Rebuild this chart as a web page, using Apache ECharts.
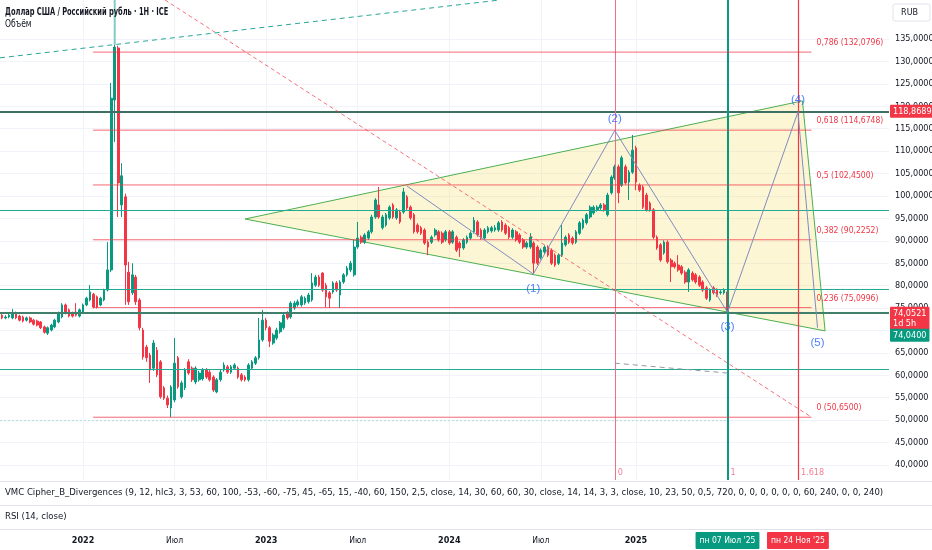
<!DOCTYPE html>
<html><head><meta charset="utf-8">
<script src="https://cdn.jsdelivr.net/npm/echarts@6/dist/echarts.min.js"></script>
<style>html,body{margin:0;padding:0;background:#fff}#c{width:932px;height:550px}</style>
</head><body><div id="c"></div><script>
const DAY = 86400000;
const ts = s => Date.parse(s + 'T00:00:00Z');
const FONT = "'Liberation Sans Narrow','Arial Narrow','DejaVu Sans Condensed',sans-serif";

// ---- data ----
const firstWeek = '2021-07-19';
// weekly [open, close, low, high]
const weeklyOHLC = [
[73.6,73.2,72.9,74.0],[73.4,72.8,72.5,73.8],[72.8,73.0,72.5,73.4],[73.0,73.4,72.7,73.8],[72.8,73.9,72.5,74.8],
[73.9,72.8,72.5,74.2],[73.2,72.3,72.0,73.5],[73.0,72.1,71.8,73.3],[72.3,72.8,72.0,73.1],[72.8,71.9,71.6,73.1],
[72.3,71.4,71.1,72.6],[72.1,71.2,70.9,72.4],[71.9,70.6,70.3,72.1],[70.8,69.6,69.3,71.1],[69.4,70.6,69.0,70.9],
[70.1,71.2,69.8,71.5],[70.8,72.3,70.5,72.6],[71.9,73.9,71.6,74.2],[73.0,75.7,72.7,76.1],[75.7,73.9,73.6,76.0],
[74.6,73.2,72.9,74.9],[73.9,73.2,72.9,74.2],[74.1,73.4,73.1,76.1],[73.2,74.6,72.9,74.9],[74.1,75.7,73.8,76.0],
[75.7,77.2,75.4,77.5],[76.8,78.6,76.5,80.1],[78.1,75.2,74.9,78.4],[77.5,75.2,74.9,77.8],[75.7,77.2,75.4,77.5],
[76.8,79.0,76.5,79.3],[79.0,83.5,78.7,89.7],[83.5,121.8,83.0,125.2],[121.4,133.2,112.0,133.7],[133.0,102.9,95.3,133.5],
[98.0,104.5,95.3,107.3],[99.8,84.6,75.7,100.5],[83.0,76.4,75.7,85.3],[78.4,82.4,77.9,85.0],[81.9,76.4,75.7,82.4],
[76.8,70.6,70.0,77.2],[70.1,64.1,63.5,70.6],[66.3,63.9,63.0,66.8],[64.5,61.2,58.3,65.0],[61.6,67.2,61.0,67.9],
[65.6,60.1,59.6,66.3],[63.0,55.2,54.8,63.4],[57.2,54.9,54.5,57.6],[54.9,53.4,52.7,55.5],[52.7,57.4,50.7,57.8],
[54.5,62.7,54.0,68.3],[63.9,57.4,57.0,64.3],[55.2,58.3,54.8,58.8],[57.2,61.2,56.7,61.6],[63.0,60.5,60.1,63.6],
[61.6,59.0,58.5,62.0],[58.5,61.6,58.0,62.0],[59.0,60.5,58.6,61.0],[59.2,61.2,58.8,61.6],[61.2,59.6,59.2,61.6],
[60.7,59.0,58.6,61.2],[59.6,56.7,56.3,60.0],[56.3,59.0,56.0,59.4],[59.0,60.7,58.6,61.2],[61.2,62.3,60.8,62.9],
[61.9,60.7,60.3,62.3],[60.7,61.9,60.3,62.3],[61.6,62.3,61.2,62.7],[61.6,59.6,59.2,62.0],[60.1,59.0,58.6,60.5],
[59.6,59.0,58.6,60.0],[59.0,62.3,58.6,62.7],[61.6,63.0,61.2,63.4],[62.7,63.9,62.3,64.3],[63.9,67.9,63.5,72.8],
[67.9,72.3,67.5,74.6],[72.3,70.6,70.0,72.8],[70.6,67.6,66.3,71.0],[67.2,69.0,66.8,69.4],[68.3,70.1,67.9,70.6],
[69.7,71.7,69.3,72.1],[70.6,73.4,70.2,73.9],[73.9,72.8,72.4,74.3],[73.0,76.1,72.6,76.5],[75.0,76.1,74.6,76.6],
[75.7,76.4,75.3,76.9],[75.7,77.5,75.3,77.9],[76.1,77.2,75.7,77.6],[76.4,77.9,76.0,78.4],[76.8,80.6,76.4,82.8],
[80.1,81.9,79.7,82.4],[81.9,80.1,79.7,82.4],[82.8,79.0,78.6,83.0],[80.1,77.5,75.2,80.6],[78.4,77.2,75.0,78.8],
[78.6,80.6,78.2,81.0],[80.6,79.0,78.6,81.0],[77.9,80.8,75.0,81.2],[80.8,82.4,80.4,82.8],[82.4,83.9,82.0,84.4],
[83.5,85.0,83.0,85.5],[82.4,88.6,82.0,90.2],[88.6,90.6,88.2,94.2],[90.8,89.7,89.3,91.2],[89.7,91.3,89.3,91.7],
[90.6,92.0,90.2,92.4],[92.0,95.3,91.6,95.8],[95.3,99.1,94.9,99.5],[98.0,95.3,94.9,102.0],[92.9,95.3,92.5,95.8],
[93.5,95.8,93.1,96.2],[95.1,97.5,94.7,97.9],[98.0,95.3,94.9,98.4],[95.1,96.9,94.7,97.3],[96.4,94.2,93.8,96.9],
[96.4,100.9,96.0,101.8],[99.8,97.3,96.9,100.2],[97.5,95.1,94.7,97.9],[95.8,92.0,91.6,96.2],[93.5,92.0,91.6,93.9],
[92.9,91.7,91.3,93.3],[92.4,89.5,89.1,92.8],[89.7,88.6,86.8,90.1],[89.7,90.8,89.3,91.2],[91.3,92.4,90.9,92.8],
[92.0,90.2,89.8,92.4],[91.7,89.7,89.3,92.1],[90.2,92.0,89.8,92.4],[92.0,89.5,89.1,92.4],[89.7,92.0,89.3,92.4],
[90.8,87.9,87.5,91.2],[89.5,88.4,86.4,89.9],[88.4,90.2,88.0,90.6],[89.7,90.8,89.3,91.2],[90.6,91.7,90.2,92.1],
[92.0,94.6,91.6,95.3],[94.2,91.3,90.9,94.6],[92.4,90.6,90.2,92.8],[90.6,92.4,90.2,92.8],[92.0,92.9,91.6,93.3],
[92.2,92.9,91.8,93.3],[92.4,92.9,92.0,93.5],[92.4,94.0,92.0,94.4],[94.2,92.4,92.0,94.6],[93.5,91.7,91.3,93.9],
[92.9,90.8,90.4,93.3],[90.8,92.4,90.4,92.8],[92.0,90.2,89.8,92.4],[91.3,89.7,89.3,91.7],[90.2,88.6,88.2,90.6],
[88.6,89.5,88.2,89.9],[88.6,90.8,88.2,91.7],[89.5,85.0,82.8,89.9],[88.6,85.0,84.6,89.0],[86.2,87.9,85.8,88.3],
[87.5,88.6,87.1,89.0],[88.6,86.8,86.4,89.0],[87.9,85.0,84.6,88.3],[86.8,84.6,84.2,87.2],[85.0,86.8,84.6,87.2],
[86.8,89.5,86.4,93.5],[89.1,90.8,88.7,91.2],[91.3,89.7,89.3,91.7],[90.6,89.5,89.1,91.0],[89.7,92.0,89.3,92.4],
[91.7,94.0,91.3,94.4],[92.9,94.6,92.5,95.0],[94.0,95.8,93.6,96.2],[95.3,97.5,94.9,97.9],[96.2,97.5,95.8,97.9],
[96.9,97.5,96.5,97.9],[97.3,98.0,96.9,98.4],[98.0,96.9,96.5,98.4],[95.8,100.2,95.4,100.7],[100.7,104.2,100.3,104.6],
[104.0,106.5,103.6,107.0],[106.5,100.7,98.4,107.0],[102.4,108.5,102.0,109.0],[106.5,102.9,102.5,107.0],[103.1,105.3,99.1,105.8],
[105.3,110.2,104.9,113.6],[110.7,103.1,101.3,111.2],[102.4,101.3,100.9,102.8],[102.0,97.5,97.1,102.4],[100.2,96.9,96.5,100.7],
[98.4,96.9,96.5,98.8],[96.9,90.8,90.4,97.3],[90.8,88.4,88.0,91.2],[89.1,85.7,85.3,89.5],[87.3,89.7,86.9,90.1],
[89.7,85.3,84.9,90.1],[85.7,84.2,80.8,86.1],[85.0,84.2,83.8,85.4],[84.6,83.5,83.1,86.8],[84.2,82.8,82.4,84.6],
[83.0,80.8,80.4,83.4],[80.8,83.5,78.6,83.9],[82.8,81.3,80.9,83.2],[82.4,80.8,80.4,82.8],[81.9,80.1,79.7,82.3],
[80.8,79.0,78.6,81.2],[79.5,77.2,76.8,79.9],[76.8,79.0,76.4,79.4],[79.5,78.4,78.0,79.9],[79.0,77.9,77.5,79.4],
[78.4,78.6,78.0,79.0],[78.4,79.0,78.0,79.4],[78.6,74.05,73.9,79.0]
];
const xRange = ['2021-07-22', '2026-05-24'];
const yRange = [36.65, 143.70];
const priceTicks = [40,45,50,55,60,65,70,75,80,85,90,95,100,105,110,115,120,125,130,135];
const timeTicks = ['2022-01-03','2022-07-04','2023-01-02','2023-07-03','2024-01-01','2024-07-01','2025-01-06'];
const timeTickLabels = ['2022','Июл','2023','Июл','2024','Июл','2025'];
const markerDates = ['2025-07-07','2025-11-24'];
const markerLabels = ["пн 07 Июл '25", "пн 24 Ноя '25"];
const tealLevels = [96.87, 79.2, 61.4];
const keyLevels = [118.8689, 74.0521];
const keyLabels = ['118,8689', '74,0521\n1d 5h'];
const bidPrice = 74.04, bidLabel = '74,0400';
const fibRatios = ['0,786','0,618','0,5','0,382','0,236','0'];
const fibPrices = [132.0796, 114.6748, 102.45, 90.2252, 75.0996, 50.65];
const fibSpan = ['2022-01-23', '2025-12-21'];
const cycleDates = ['2024-11-25','2025-07-07','2025-11-24'];
const cycleLabels = ['0','1','1.618'];
const triangleDates = ['2022-11-21','2025-12-03','2026-01-17'];
const trianglePrices = [94.86, 121.2, 69.9];
const waveDates = ['2023-10-09','2024-06-16','2024-11-25','2025-07-07','2025-11-24','2026-01-02'];
const wavePrices = [102.2, 82.6, 114.6, 74.05, 118.7, 70.6];
const waveLabels = ['', '(1)', '(2)', '(3)', '(4)', '(5)'];
const redRayDates = ['2022-06-15','2025-12-21'], redRayPrices = [143.7, 50.65];
const greenRayDates = ['2021-07-22','2024-04-11'], greenRayPrices = [130.8, 143.7];
const grayDashDates = ['2024-11-25','2025-07-07'], grayDashPrices = [62.7, 60.5];
const zeroDotDates = ['2021-07-22','2025-07-07'], zeroDotPrices = [49.9, 49.9];
const spikeDates = ['2022-03-07','2022-03-07'], spikePrices = [133.7, 143.7];

// ---- build ----
const t0 = ts(firstWeek);
const candleData = weeklyOHLC.map((r, i) => [t0 + i * 7 * DAY, r[0], r[1], r[2], r[3]]);
const pts = (ds, ps) => ds.map((d, i) => [ts(d), ps[i]]);
const seg = (ds, ps, style, z) => ({
  type: 'line', data: pts(ds, ps), symbol: 'none', silent: true, clip: true,
  lineStyle: style, z: z || 4, xAxisIndex: 0, yAxisIndex: 0
});
const fmtPrice = v => v.toFixed(4).replace('.', ',');

const series = [];
series.push({
  type: 'custom', coordinateSystem: 'cartesian2d', clip: true, z: 1, silent: true,
  data: [[ts(triangleDates[0]), trianglePrices[0]]],
  renderItem: (params, api) => ({
    type: 'polygon',
    shape: { points: triangleDates.map((d, i) => api.coord([ts(d), trianglePrices[i]])) },
    style: { fill: 'rgba(245,215,60,0.22)', stroke: '#4caf50', lineWidth: 1 }
  })
});
const boxLabel = (text, bg, offsetY) => ({
  show: true, position: 'end', distance: 1, formatter: text, backgroundColor: bg, color: '#fff',
  padding: [2, 3, 1, 3], fontSize: 9, lineHeight: 10, fontFamily: FONT, borderRadius: 1, offset: [0, offsetY]
});
const markData = [];
tealLevels.forEach(v => markData.push({ yAxis: v, lineStyle: { color: '#22ab94', width: 1, type: 'solid' } }));
markData.push({ yAxis: keyLevels[0], lineStyle: { color: '#3f6f63', width: 2, type: 'solid' }, label: boxLabel(keyLabels[0], '#f23645', 0) });
markData.push({ yAxis: keyLevels[1], lineStyle: { color: '#3f7f6b', width: 2, type: 'solid' }, label: boxLabel(keyLabels[1], '#f23645', 6) });
markData.push({ yAxis: bidPrice, lineStyle: { color: 'rgba(255,255,255,0)', width: 0.01, type: 'solid' }, label: boxLabel(bidLabel, '#089981', 23) });
const cycleStyles = [
  { color: '#ee6f8a', width: 1, type: 'solid' },
  { color: '#089981', width: 2, type: 'solid' },
  { color: '#f23645', width: 1.2, type: 'solid' }
];
cycleDates.forEach((d, i) => markData.push({ xAxis: ts(d), lineStyle: cycleStyles[i] }));

series.push({
  type: 'candlestick', data: candleData, barWidth: 2.2, z: 3,
  encode: { x: 0, y: [1, 2, 3, 4] },
  itemStyle: { color: '#089981', color0: '#f23645', borderColor: '#089981', borderColor0: '#f23645', borderWidth: 1 },
  markLine: { silent: true, symbol: ['none', 'none'], animation: false, label: { show: false }, data: markData, z: 4 }
});

// fib lines
fibPrices.forEach((p, i) => {
  const s = seg(fibSpan, [p, p], { color: 'rgba(242,54,69,0.75)', width: 1 }, 4);
  s.endLabel = { show: true, formatter: fibRatios[i] + ' (' + fmtPrice(p) + ')', color: '#f23645',
    fontSize: 8.5, fontFamily: FONT, distance: 5, offset: [0, -9] };
  series.push(s);
});
series.push(seg(redRayDates, redRayPrices, { color: 'rgba(242,54,69,0.7)', width: 1, type: [4, 3] }));
series.push(seg(greenRayDates, greenRayPrices, { color: '#26a69a', width: 1, type: [5, 4] }));
series.push(seg(grayDashDates, grayDashPrices, { color: '#9598a1', width: 1, type: [5, 4] }));
series.push(seg(zeroDotDates, zeroDotPrices, { color: '#b2dfdb', width: 1, type: [2, 2] }, 2));
series.push(seg(spikeDates, spikePrices, { color: '#80cbc4', width: 2 }));
series.push(seg(waveDates, wavePrices, { color: '#7f8cc0', width: 1 }, 5));

// wave labels
series.push({
  type: 'scatter', symbolSize: 0, silent: true, z: 6,
  data: waveDates.map((d, i) => ({
    value: [ts(d), wavePrices[i]],
    label: { show: waveLabels[i] !== '', formatter: waveLabels[i], position: (i % 2 === 0) ? 'top' : 'bottom',
      distance: (i % 2 === 0) ? 6 : 9, color: '#2962ff', fontSize: 11.5, fontFamily: "'Liberation Sans','Noto Sans',sans-serif" }
  }))
});
// cycle labels
series.push({
  type: 'scatter', symbolSize: 0, silent: true, z: 6,
  data: cycleDates.map((d, i) => ({
    value: [ts(d), 38.3],
    label: { show: true, formatter: cycleLabels[i], position: 'right', distance: 3,
      color: '#f0607a', fontSize: 9, fontFamily: FONT }
  }))
});

const timeTickTs = timeTicks.map(ts);
const markerTs = markerDates.map(ts);
const near = (a, b) => Math.abs(a - b) < DAY / 2;

const option = {
  animation: false,
  backgroundColor: '#ffffff',
  grid: [
    { left: 0, right: 43, top: 0, height: 480, outerBoundsMode: 'none', containLabel: false },
    { left: 0, right: 43, top: 529, height: 1, outerBoundsMode: 'none', containLabel: false }
  ],
  xAxis: [
    { type: 'value', gridIndex: 0, min: ts(xRange[0]), max: ts(xRange[1]),
      axisLine: { show: false }, axisTick: { show: false, customValues: timeTickTs }, axisLabel: { show: false },
      splitLine: { show: true, lineStyle: { color: '#f0f3fa', width: 1 } } },
    { type: 'value', gridIndex: 1, min: ts(xRange[0]), max: ts(xRange[1]),
      axisLine: { show: false }, axisTick: { show: false }, splitLine: { show: false },
      axisLabel: {
        show: true, margin: 2, customValues: timeTickTs.concat(markerTs), hideOverlap: false,
        showMinLabel: true, showMaxLabel: true,
        fontFamily: FONT, fontSize: 9, color: '#131722',
        formatter: (v) => {
          for (let i = 0; i < timeTickTs.length; i++) if (near(v, timeTickTs[i])) {
            return (/^\d+$/.test(timeTickLabels[i]) ? '{y|' : '{m|') + timeTickLabels[i] + '}';
          }
          if (near(v, markerTs[0])) return '{g|' + markerLabels[0] + '}';
          if (near(v, markerTs[1])) return '{r|' + markerLabels[1] + '}';
          return '';
        },
        rich: {
          y: { fontFamily: FONT, fontSize: 9, fontWeight: 'bold', color: '#131722', padding: [4, 0] },
          m: { fontFamily: FONT, fontSize: 8.5, color: '#131722', padding: [4, 0] },
          g: { fontFamily: FONT, fontSize: 8.5, color: '#fff', backgroundColor: '#089981', padding: [4, 4], borderRadius: 1 },
          r: { fontFamily: FONT, fontSize: 8.5, color: '#fff', backgroundColor: '#f23645', padding: [4, 4], borderRadius: 1 }
        }
      } }
  ],
  yAxis: [
    { type: 'value', gridIndex: 0, position: 'right', min: yRange[0], max: yRange[1],
      axisLine: { show: false }, axisTick: { show: false, customValues: priceTicks },
      splitLine: { show: true, lineStyle: { color: '#f0f3fa', width: 1 } },
      axisLabel: { show: true, customValues: priceTicks, margin: 6, color: '#131722', fontSize: 9, fontFamily: FONT,
        formatter: v => fmtPrice(v) } },
    { type: 'value', gridIndex: 1, show: false }
  ],
  graphic: [
    { type: 'text', left: 5, top: 7, z: 20, scaleX: 0.74, style: { text: 'Доллар США / Российский рубль · 1H · ICE', fontSize: 10, fontWeight: 'bold', fontFamily: FONT, fill: '#131722' } },
    { type: 'text', left: 5, top: 19, z: 20, scaleX: 0.85, style: { text: 'Объём', fontSize: 10, fontFamily: FONT, fill: '#131722' } },
    { type: 'line', z: 20, shape: { x1: 0, y1: 481.5, x2: 932, y2: 481.5 }, style: { stroke: '#e0e3eb', lineWidth: 1 } },
    { type: 'line', z: 20, shape: { x1: 0, y1: 505.5, x2: 932, y2: 505.5 }, style: { stroke: '#e0e3eb', lineWidth: 1 } },
    { type: 'line', z: 20, shape: { x1: 0, y1: 529.5, x2: 932, y2: 529.5 }, style: { stroke: '#e0e3eb', lineWidth: 1 } },
    { type: 'text', left: 5, top: 488, z: 20, style: { text: 'VMC Cipher_B_Divergences (9, 12, hlc3, 3, 53, 60, 100, -53, -60, -75, 45, -65, 15, -40, 60, 150, 2,5, close, 14, 30, 60, 60, 30, close, 14, 14, 3, 3, close, 10, 23, 50, 0,5, 720, 0, 0, 0, 0, 0, 0, 60, 240, 0, 0, 240)', fontSize: 9.5, fontFamily: FONT, fill: '#131722' } },
    { type: 'text', left: 5, top: 512, z: 20, style: { text: 'RSI (14, close)', fontSize: 9.5, fontFamily: FONT, fill: '#131722' } },
    { type: 'rect', z: 20, shape: { x: 893, y: 4, width: 37, height: 17, r: 2 }, style: { fill: '#fff', stroke: '#e0e3eb', lineWidth: 1 } },
    { type: 'text', z: 21, left: 901, top: 8, style: { text: 'RUB', fontSize: 9, fontFamily: FONT, fill: '#131722' } }
  ],
  series: series
};
const chart = echarts.init(document.getElementById('c'), null, { renderer: 'canvas' });
chart.setOption(option);
</script></body></html>
